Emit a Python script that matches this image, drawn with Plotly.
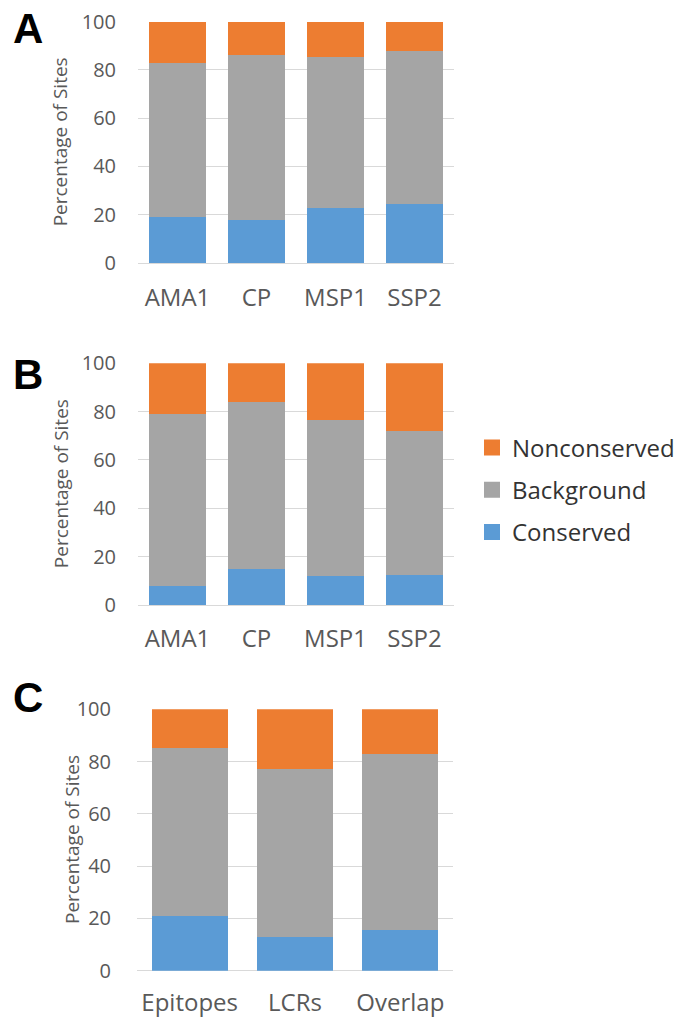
import plotly.graph_objects as go

# ---- data (percent of sites) ----
genes = ["AMA1", "CP", "MSP1", "SSP2"]
regions = ["Epitopes", "LCRs", "Overlap"]

a_conserved = [19, 18, 23, 24.5]
a_background = [64, 68, 62.5, 63.5]
a_nonconserved = [17, 14, 14.5, 12]

b_conserved = [8, 15, 12, 12.4]
b_background = [71, 69, 64.5, 59.6]
b_nonconserved = [21, 16, 23.5, 28]

c_conserved = [21, 12.8, 15.4]
c_background = [64.3, 64.5, 67.6]
c_nonconserved = [14.7, 22.7, 17]

series_names = ["Conserved", "Background", "Nonconserved"]
legend_order = ["Nonconserved", "Background", "Conserved"]
colors = {"Conserved": "#5B9BD5", "Background": "#A5A5A5", "Nonconserved": "#ED7D31"}
panel_labels = ["A", "B", "C"]

W, H = 686, 1019
FONT = "Open Sans"
GREY_TXT = "#595959"

def py(p):  # pixel -> paper y
    return 1 - p / H

def px(p):
    return p / W

panels = [
    dict(cats=genes, vals=[a_conserved, a_background, a_nonconserved],
         x0=138, x1=454, ybot=263, ytop=21.7, title_x=60, label_y=28,
         ystand=21, xstand=18),
    dict(cats=genes, vals=[b_conserved, b_background, b_nonconserved],
         x0=138, x1=454, ybot=605, ytop=363.3, title_x=61, label_y=374,
         ystand=21, xstand=17),
    dict(cats=regions, vals=[c_conserved, c_background, c_nonconserved],
         x0=137, x1=453, ybot=970.7, ytop=709.3, title_x=72, label_y=697,
         ystand=25, xstand=15),
]

fig = go.Figure()
layout = dict(
    width=W, height=H, margin=dict(l=0, r=0, t=0, b=0, autoexpand=False),
    paper_bgcolor="white", plot_bgcolor="white",
    barmode="stack", bargap=0.28,
    font=dict(family=FONT, color=GREY_TXT),
    showlegend=True,
)
annotations = []

for i, p in enumerate(panels):
    sfx = "" if i == 0 else str(i + 1)
    xa, ya = "x" + sfx, "y" + sfx
    for name, v in zip(series_names, p["vals"]):
        fig.add_trace(go.Bar(
            x=p["cats"], y=v, name=name, xaxis=xa, yaxis=ya,
            marker=dict(color=colors[name], line=dict(width=0)),
            showlegend=False,
        ))
    layout["xaxis" + sfx] = dict(
        domain=[px(p["x0"]), px(p["x1"])], anchor=ya,
        showgrid=False, zeroline=False, showline=False,
        tickfont=dict(size=24, color=GREY_TXT, family=FONT),
        ticks="", ticklabelstandoff=p["xstand"], fixedrange=True, automargin=False,
    )
    layout["yaxis" + sfx] = dict(
        domain=[py(p["ybot"]), py(p["ytop"])], anchor=xa,
        range=[0, 100], tickvals=[0, 20, 40, 60, 80, 100],
        showgrid=True, gridcolor="#D9D9D9", gridwidth=1,
        zeroline=True, zerolinecolor="#D9D9D9", zerolinewidth=1,
        showline=False, ticks="",
        tickfont=dict(size=20, color=GREY_TXT, family=FONT),
        ticklabelstandoff=p["ystand"], fixedrange=True, automargin=False,
    )
    annotations.append(dict(
        text="Percentage of Sites", textangle=-90, xref="paper", yref="paper",
        x=px(p["title_x"]), y=py((p["ybot"] + p["ytop"]) / 2),
        xanchor="center", yanchor="middle", showarrow=False,
        font=dict(size=19, color=GREY_TXT, family=FONT),
    ))
    annotations.append(dict(
        text="<b>%s</b>" % panel_labels[i], xref="paper", yref="paper",
        x=px(28), y=py(p["label_y"]), xanchor="center", yanchor="middle",
        showarrow=False,
        font=dict(size=42, color="black", family="Liberation Sans"),
    ))

# legend entries (square swatches), top to bottom
for name in legend_order:
    fig.add_trace(go.Scatter(
        x=[None], y=[None], mode="markers", name=name, legendgroup=name,
        marker=dict(symbol="square", size=16, color=colors[name]),
        showlegend=True,
    ))

layout["legend"] = dict(
    x=px(472), y=py(490), xanchor="left", yanchor="middle",
    traceorder="grouped", tracegroupgap=8,
    font=dict(size=24, color="#333333", family=FONT),
    itemsizing="trace", bgcolor="rgba(0,0,0,0)",
)
layout["annotations"] = annotations
fig.update_layout(**layout)

fig.write_html(
    "out.html",
    config={"displayModeBar": False},
    post_script="document.body.style.margin='0px';document.body.style.overflow='hidden';",
)
